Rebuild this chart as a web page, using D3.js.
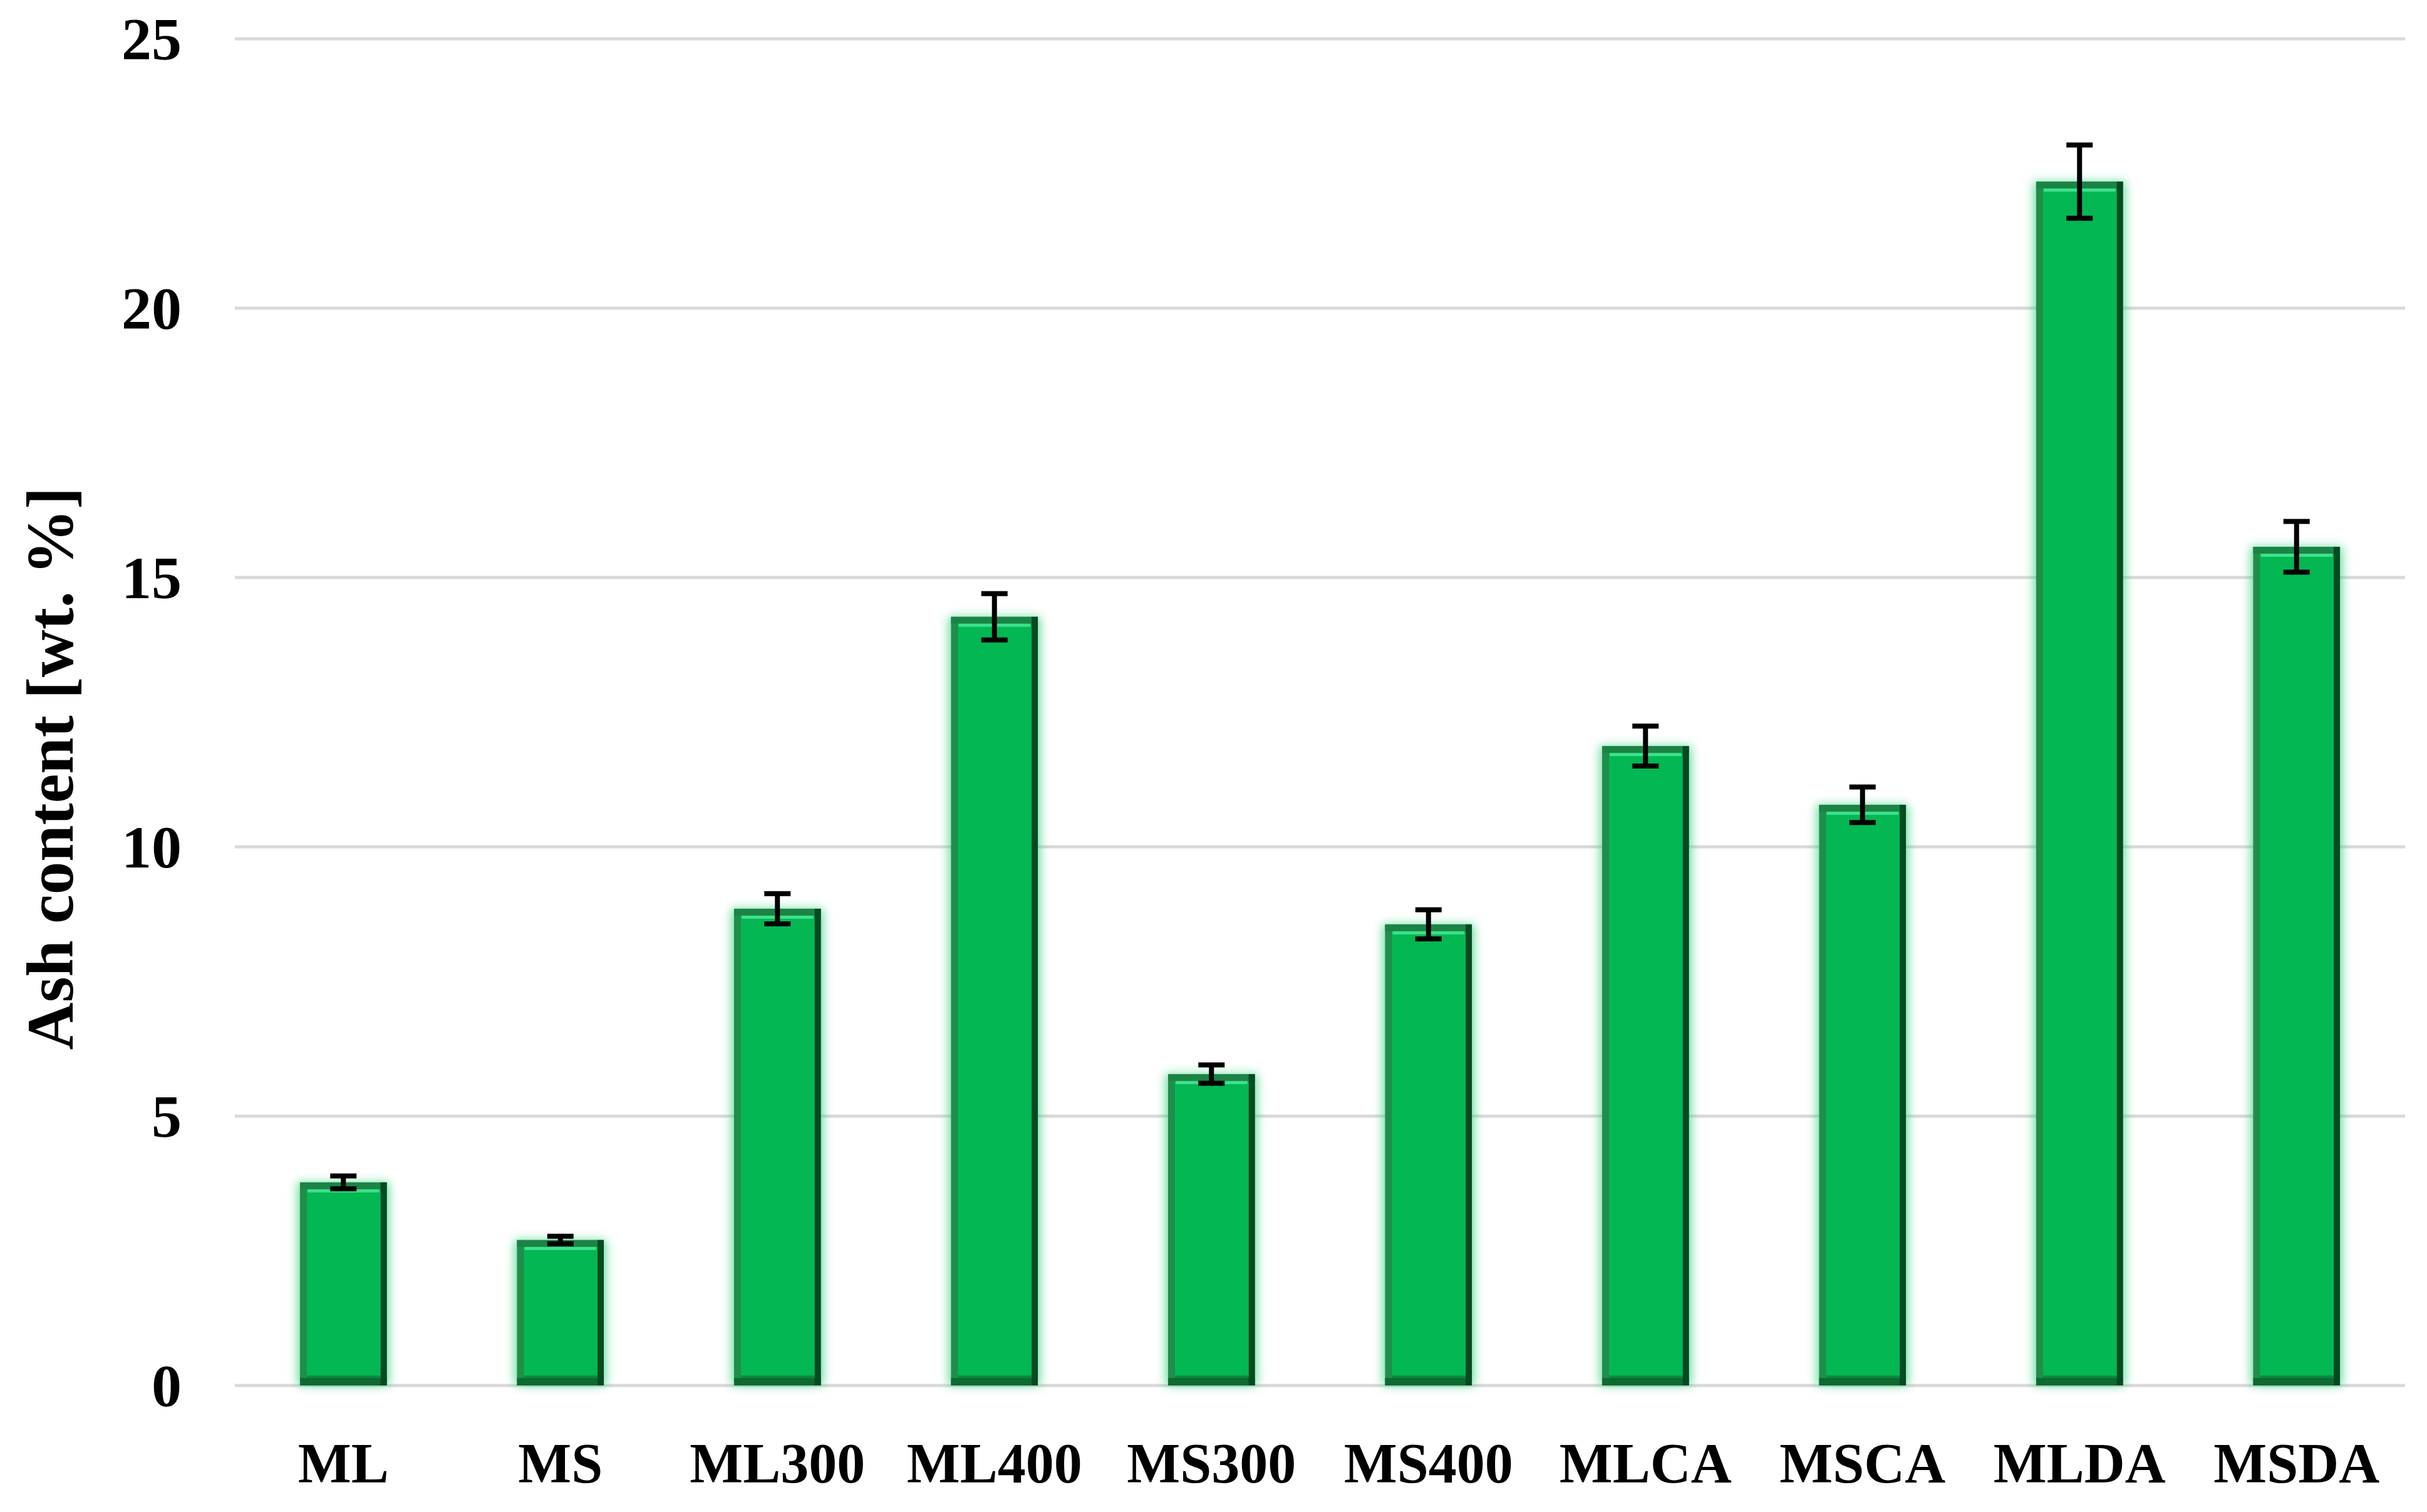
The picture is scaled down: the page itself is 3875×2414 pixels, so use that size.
<!DOCTYPE html>
<html>
<head>
<meta charset="utf-8">
<script src="https://cdn.jsdelivr.net/npm/d3@7/dist/d3.min.js"></script>
<style>
  html, body { margin: 0; padding: 0; background: #ffffff; }
  svg { display: block; }
</style>
</head>
<body>
<svg id="chart" width="3875" height="2414"></svg>
<script>
// ---- Data ----
const categories = ["ML", "MS", "ML300", "ML400", "MS300", "MS400", "MLCA", "MSCA", "MLDA", "MSDA"];
const ashValues  = [3.77, 2.70, 8.85, 14.27, 5.78, 8.56, 11.87, 10.78, 22.35, 15.57];
const ashErrors  = [0.12, 0.07, 0.28, 0.43, 0.17, 0.27, 0.37, 0.33, 0.68, 0.47];
const yTicks     = [0, 5, 10, 15, 20, 25];
const yTitle     = "Ash content [wt. %]";

// ---- Layout ----
const plot = { left: 375, right: 3840, top: 62, bottom: 2212 };

const svg = d3.select("#chart");

const x = d3.scaleBand()
  .domain(categories)
  .range([plot.left, plot.right])
  .paddingInner(0.6)
  .paddingOuter(0.3);

const y = d3.scaleLinear()
  .domain([0, 25])
  .range([plot.bottom, plot.top]);

// ---- Defs ----
const defs = svg.append("defs");
const glow = defs.append("filter").attr("id", "glow")
  .attr("x", "-30%").attr("y", "-10%").attr("width", "160%").attr("height", "120%");
glow.append("feGaussianBlur").attr("in", "SourceGraphic").attr("stdDeviation", 8);

// ---- Gridlines ----
svg.append("g")
  .selectAll("line")
  .data(yTicks)
  .join("line")
  .attr("x1", plot.left).attr("x2", plot.right)
  .attr("y1", d => y(d)).attr("y2", d => y(d))
  .attr("stroke", "#d9d9d9")
  .attr("stroke-width", 5);

// ---- Y axis tick labels ----
const yAxis = d3.axisLeft(y).tickValues(yTicks).tickSize(0).tickPadding(0);
const yg = svg.append("g")
  .attr("transform", `translate(290,0)`)
  .call(yAxis);
yg.select(".domain").remove();
yg.selectAll("text")
  .attr("font-family", "'Liberation Serif', 'Times New Roman', serif")
  .attr("font-weight", "bold")
  .attr("font-size", 96)
  .attr("fill", "#000")
  .attr("dy", "0.34em");

// ---- X axis labels ----
const xAxis = d3.axisBottom(x).tickSize(0).tickPadding(0);
const xg = svg.append("g")
  .attr("transform", `translate(0,2367)`)
  .call(xAxis);
xg.select(".domain").remove();
xg.selectAll("text")
  .attr("font-family", "'Liberation Serif', 'Times New Roman', serif")
  .attr("font-weight", "bold")
  .attr("font-size", 90)
  .attr("fill", "#000")
  .attr("y", 0)
  .attr("dy", 0);

// ---- Y title ----
svg.append("text")
  .attr("transform", "translate(116,1227) rotate(-90)")
  .attr("text-anchor", "middle")
  .attr("font-family", "'Liberation Serif', 'Times New Roman', serif")
  .attr("font-weight", "bold")
  .attr("font-size", 105)
  .attr("fill", "#000")
  .text(yTitle);

// ---- Bars ----
const data = categories.map((c, i) => ({ c, v: ashValues[i], e: ashErrors[i] }));
const bw = x.bandwidth();
const bars = svg.append("g").selectAll("g").data(data).join("g");

// glow halo
bars.append("rect")
  .attr("x", d => x(d.c) - 4)
  .attr("y", d => y(d.v))
  .attr("width", bw + 8)
  .attr("height", d => y(0) - y(d.v))
  .attr("fill", "#2fd07a")
  .attr("opacity", 0.7)
  .attr("filter", "url(#glow)");

// outer body (border tone)
bars.append("rect")
  .attr("x", d => x(d.c))
  .attr("y", d => y(d.v))
  .attr("width", bw)
  .attr("height", d => y(0) - y(d.v))
  .attr("fill", "#1f8e4b");

// top border
bars.append("rect")
  .attr("x", d => x(d.c))
  .attr("y", d => y(d.v))
  .attr("width", bw)
  .attr("height", 11)
  .attr("fill", "#1b8445");

// bottom band
bars.append("rect")
  .attr("x", d => x(d.c))
  .attr("y", d => y(0) - 12)
  .attr("width", bw)
  .attr("height", 12)
  .attr("fill", "#0e6a31");

// right dark edge
bars.append("rect")
  .attr("x", d => x(d.c) + bw - 10)
  .attr("y", d => y(d.v))
  .attr("width", 10)
  .attr("height", d => y(0) - y(d.v))
  .attr("fill", "#064a20");

// inner fill
bars.append("rect")
  .attr("x", d => x(d.c) + 11)
  .attr("y", d => y(d.v) + 11)
  .attr("width", bw - 21)
  .attr("height", d => Math.max(0, y(0) - y(d.v) - 23))
  .attr("fill", "#03b753");

// top highlight
bars.append("rect")
  .attr("x", d => x(d.c) + 12)
  .attr("y", d => y(d.v) + 11)
  .attr("width", bw - 24)
  .attr("height", 5)
  .attr("fill", "#3ee08c");

// inner bottom shade line
bars.append("rect")
  .attr("x", d => x(d.c) + 11)
  .attr("y", d => y(0) - 16)
  .attr("width", bw - 21)
  .attr("height", 4)
  .attr("fill", "#0a8a3f");

// ---- Error bars ----
const capW = 42;
const eb = svg.append("g").selectAll("g").data(data).join("g")
  .attr("stroke", "#000")
  .attr("stroke-width", 8);
eb.append("line")
  .attr("x1", d => x(d.c) + bw / 2).attr("x2", d => x(d.c) + bw / 2)
  .attr("y1", d => y(d.v + d.e)).attr("y2", d => y(d.v - d.e));
eb.append("line")
  .attr("x1", d => x(d.c) + bw / 2 - capW / 2).attr("x2", d => x(d.c) + bw / 2 + capW / 2)
  .attr("y1", d => y(d.v + d.e)).attr("y2", d => y(d.v + d.e));
eb.append("line")
  .attr("x1", d => x(d.c) + bw / 2 - capW / 2).attr("x2", d => x(d.c) + bw / 2 + capW / 2)
  .attr("y1", d => y(d.v - d.e)).attr("y2", d => y(d.v - d.e));
</script>
</body>
</html>
